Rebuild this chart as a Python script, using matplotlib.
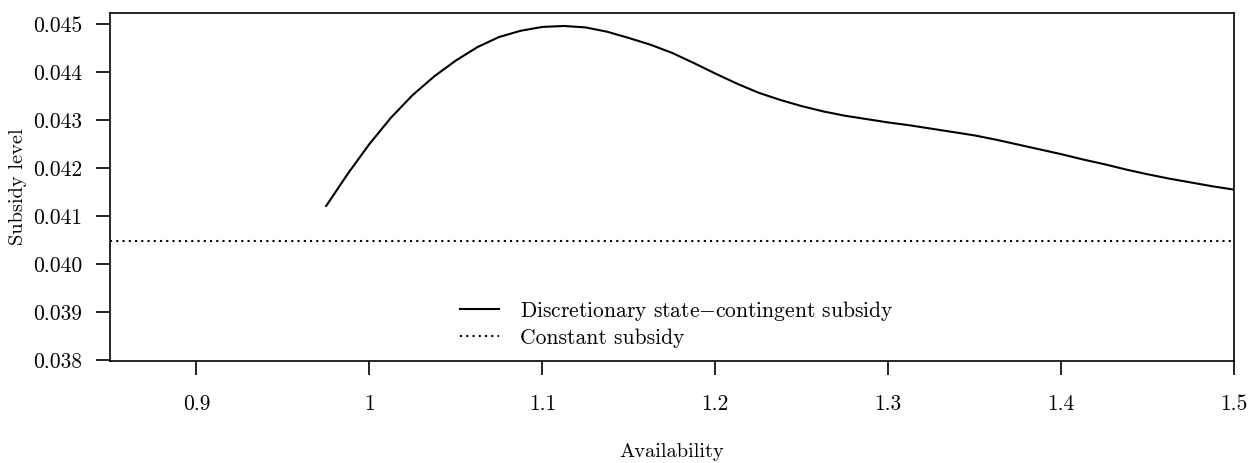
import numpy as np
import matplotlib
matplotlib.use("Agg")
import matplotlib.pyplot as plt

availability = [0.975, 0.9875, 1.0, 1.0125, 1.025, 1.0375, 1.05, 1.0625, 1.075, 1.0875,
                1.1, 1.1125, 1.125, 1.1375, 1.15, 1.1625, 1.175, 1.1875, 1.2, 1.2125,
                1.225, 1.2375, 1.25, 1.2625, 1.275, 1.2875, 1.3, 1.3125, 1.325, 1.3375,
                1.35, 1.3625, 1.375, 1.3875, 1.4, 1.4125, 1.425, 1.4375, 1.45, 1.4625,
                1.475, 1.4875, 1.5]
discretionary = [0.04121, 0.04188, 0.04250, 0.04305, 0.04352, 0.04391, 0.04424, 0.04452,
                 0.04473, 0.04486, 0.04494, 0.04496, 0.04493, 0.04484, 0.04471, 0.04457,
                 0.04440, 0.04419, 0.04397, 0.04376, 0.04357, 0.04342, 0.04329, 0.04318,
                 0.04309, 0.04302, 0.04295, 0.04289, 0.04282, 0.04275, 0.04268, 0.04259,
                 0.04249, 0.04239, 0.04229, 0.04218, 0.04208, 0.04197, 0.04187, 0.04178,
                 0.04170, 0.04162, 0.04155]
constant_level = 0.04048

xticks = [0.9, 1.0, 1.1, 1.2, 1.3, 1.4, 1.5]
xticklabels = ["0.9", "1", "1.1", "1.2", "1.3", "1.4", "1.5"]
yticks = [0.038, 0.039, 0.040, 0.041, 0.042, 0.043, 0.044, 0.045]
yticklabels = ["0.038", "0.039", "0.040", "0.041", "0.042", "0.043", "0.044", "0.045"]

plt.rcParams['font.family'] = ['cmr10', 'DejaVu Serif']
plt.rcParams['mathtext.fontset'] = 'cm'
plt.rcParams['axes.formatter.use_mathtext'] = True

fig = plt.figure(figsize=(12.5, 4.63), dpi=100)
ax = fig.add_axes([0.088, 0.2203, 0.8992, 0.7516])

ax.plot(availability, discretionary, color='black', lw=1.5,
        label="Discretionary state$-$contingent subsidy")
ax.axhline(constant_level, color='black', lw=1.5, linestyle=(0, (1, 2)),
           label="Constant subsidy")

ax.set_xlim(0.85, 1.5)
ax.set_ylim(0.03798, 0.04523)
ax.set_xticks(xticks)
ax.set_xticklabels(xticklabels)
ax.set_yticks(yticks)
ax.set_yticklabels(yticklabels)
ax.tick_params(axis='both', direction='out', length=10, width=1.2, labelsize=15.5)
ax.tick_params(axis='x', pad=14)
ax.tick_params(axis='y', pad=10)
for s in ax.spines.values():
    s.set_linewidth(1.2)

ax.set_xlabel("Availability", fontsize=14.7, labelpad=21)
ax.set_ylabel("Subsidy level", fontsize=14.7, labelpad=4)

ax.legend(loc='center left', bbox_to_anchor=(0.311, 0.109), frameon=False,
          fontsize=15.5, borderpad=0, borderaxespad=0, handlelength=1.85,
          handletextpad=0.95, labelspacing=0.25)

plt.savefig("out.png", dpi=100)
